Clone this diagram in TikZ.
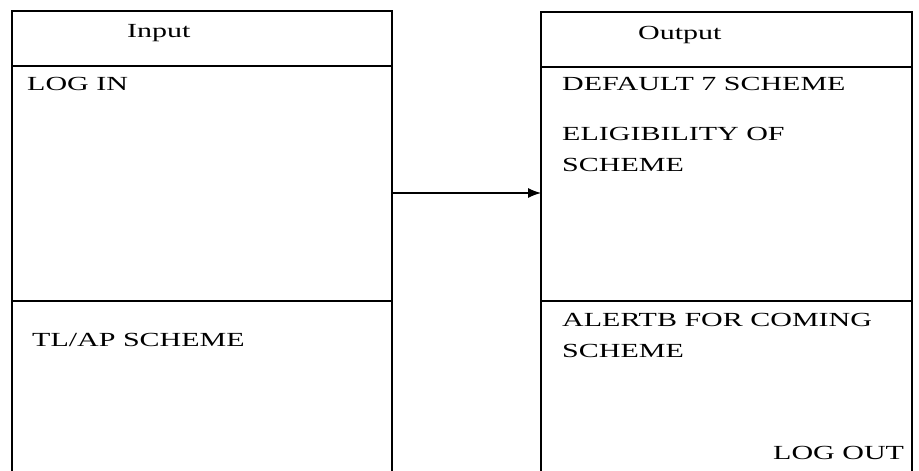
\documentclass[tikz,border=0pt]{standalone}
\usepackage{fontspec}
\setmainfont[FakeStretch=1.5]{Liberation Serif}
\usetikzlibrary{arrows.meta,positioning}
\tikzset{
    frame/.style={draw,line width=1.2pt},
    label/.style={inner sep=0pt,anchor=base west,align=left,
        font=\fontsize{20}{31}\selectfont},
    pre/.style={-{Latex[length=13pt,width=10pt]},line width=1.2pt}
}

\begin{document}
\begin{tikzpicture}[x=1pt,y=-1pt]
    \useasboundingbox (0,0) rectangle (919,471);

    % input box
    \coordinate (in1) at (12,11);
    \coordinate (in2) at (392,11);
    \coordinate (in3) at (392,471);
    \coordinate (in4) at (12,471);
    \draw[frame] (in4) -- (in1) -- (in2) -- (in3);
    \draw[frame] (12,66) -- (392,66);
    \draw[frame] (12,301) -- (392,301);

    \node[label] (input)  at (127,37.5) {Input};
    \node[label] (login)  at (27,90)    {LOG IN};
    \node[label] (tlap)   at (32,346)   {TL/AP SCHEME};

    % output box
    \coordinate (out1) at (541,12);
    \coordinate (out2) at (912,12);
    \coordinate (out3) at (912,471);
    \coordinate (out4) at (541,471);
    \draw[frame] (out4) -- (out1) -- (out2) -- (out3);
    \draw[frame] (541,67) -- (912,67);
    \draw[frame] (541,301) -- (912,301);

    \node[label] (output)  at (638,39)   {Output};
    \node[label] (default) at (562,90.5) {DEFAULT 7 SCHEME};
    \node[label] (elig)    at (562,171.5) {ELIGIBILITY OF\\SCHEME};
    \node[label] (alert)   at (562,357)  {ALERTB FOR COMING\\SCHEME};
    \node[label] (logout)  at (773,459)  {LOG OUT};

    % link
    \coordinate (inR)  at (392,193);
    \coordinate (outL) at (541,193);
    \draw[pre] (inR) -- (outL);

\end{tikzpicture}
\end{document}
